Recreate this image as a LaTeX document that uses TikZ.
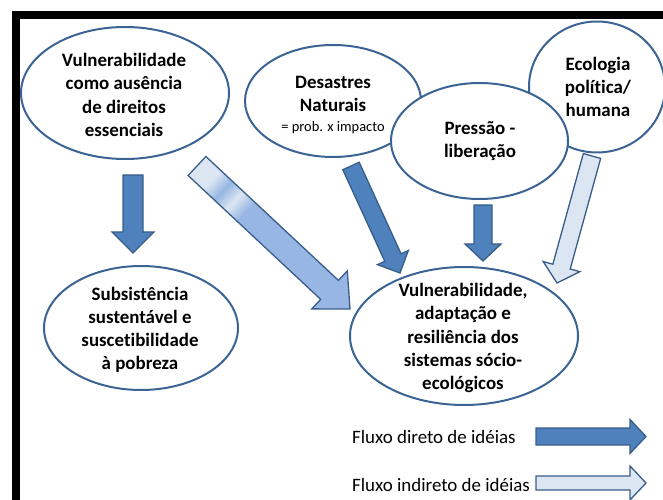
\documentclass[tikz,border=0pt]{standalone}
\usepackage{fontspec}
\setmainfont{Carlito}[Ligatures=NoCommon]
\usetikzlibrary{calc}
\usetikzlibrary{shapes.geometric}

\definecolor{bubbleline}{HTML}{3B6495}
\definecolor{flowline}{HTML}{385D8A}
\definecolor{flowdark}{HTML}{4F81BD}
\definecolor{flowlight}{HTML}{DCE6F2}
\definecolor{flowmid}{HTML}{97B6E3}

\pgfdeclarehorizontalshading{bandshade}{100bp}{color(0bp)=(flowlight); color(25bp)=(flowlight); color(30bp)=(flowmid); color(35bp)=(flowlight); color(40bp)=(flowmid); color(100bp)=(flowmid)}

\tikzset{
  bubble/.style={draw=bubbleline, line width=2bp, fill=white, shape=ellipse, inner sep=0pt},
  bubbletext/.style={align=center, inner sep=0pt, font=\bfseries\fontsize{19}{23.3}\selectfont},
  direct/.style={draw=flowline, line width=1.3bp, fill=flowdark},
  indirect/.style={draw=flowline, line width=1.3bp, fill=flowlight},
  banded/.style={draw=flowline, line width=1.3bp, shade, shading=bandshade, shading angle=-43},
  legendtext/.style={anchor=west, inner sep=0pt, font=\fontsize{19}{23}\selectfont}
}

% block arrow: [style]{from}{to}{shaft half}{head half}{head length}
\newcommand{\blockarrow}[6][]{%
  \coordinate (baM) at ($(#3)!#6!(#2)$);
  \draw[#1] ($(#2)!#4!90:(#3)$) -- ($(baM)!#4!-90:(#2)$) -- ($(baM)!#5!-90:(#2)$) -- (#3)
    -- ($(baM)!#5!90:(#2)$) -- ($(baM)!#4!90:(#2)$) -- ($(#2)!#4!-90:(#3)$) -- cycle;}

\begin{document}
\begin{tikzpicture}[x=1bp, y=-1bp]
\useasboundingbox (0,0) rectangle (663,500);

% frame
\fill[black] (12,11) rectangle (663,19);
\fill[black] (12,11) rectangle (20,500);

% bubbles
\node[bubble, minimum width=208bp, minimum height=132bp] (rights) at (125,93) {};
\node[bubbletext] (rightsT) at (124,95) {Vulnerabilidade\\como ausência\\de direitos\\essenciais};

\node[bubble, minimum width=176bp, minimum height=112bp] (disaster) at (333,101) {};
\node[bubble, minimum width=136bp, minimum height=131bp] (ecology) at (597,87) {};
\node[bubble, minimum width=177bp, minimum height=116bp] (pressure) at (479.5,141) {};
\node[bubbletext] (disasterT) at (333,105) {Desastres\\Naturais\\[-3pt]{\normalfont\fontsize{14.5}{16}\selectfont = prob. x impacto}};
\node[bubbletext] (ecologyT) at (598,87) {Ecologia\\política/\\humana};
\node[bubbletext] (pressureT) at (480,141) {Pressão -\\liberação};

\node[bubble, minimum width=194bp, minimum height=124bp] (subsist) at (141,328) {};
\node[bubbletext] (subsistT) at (140,330) {Subsistência\\sustentável e\\suscetibilidade\\à pobreza};

\node[bubble, minimum width=228bp, minimum height=138bp] (system) at (464,336) {};
\node[bubbletext] (systemT) at (463,338) {Vulnerabilidade,\\adaptação e\\resiliência dos\\sistemas sócio-\\ecológicos};

% arrow ends
\coordinate (rightsOut) at (133,175);
\coordinate (subsistIn) at (133,253);
\coordinate (rightsOutB) at (197,166);
\coordinate (systemInA) at (350,309);
\coordinate (disasterOut) at (351,166);
\coordinate (systemInB) at (400,273);
\coordinate (pressureOut) at (483,205);
\coordinate (systemInC) at (483,261);
\coordinate (ecologyOut) at (592,156);
\coordinate (systemInD) at (557,283);

\blockarrow[direct]{rightsOut}{subsistIn}{10bp}{21bp}{21bp}
\blockarrow[banded]{rightsOutB}{systemInA}{13bp}{26bp}{28bp}
\blockarrow[direct]{disasterOut}{systemInB}{9bp}{17bp}{17bp}
\blockarrow[direct]{pressureOut}{systemInC}{9bp}{18bp}{17bp}
\blockarrow[indirect]{ecologyOut}{systemInD}{9bp}{19bp}{17bp}

% legend
\node[legendtext] (directT) at (352,437) {Fluxo direto de idéias};
\node[legendtext] (indirectT) at (352,485) {Fluxo indireto de idéias};
\coordinate (directA) at (536,436.5);
\coordinate (directB) at (646,436.5);
\coordinate (indirectA) at (536,483);
\coordinate (indirectB) at (646,483);
\blockarrow[direct]{directA}{directB}{8.5bp}{17bp}{16bp}
\blockarrow[indirect]{indirectA}{indirectB}{7bp}{17bp}{16bp}

\end{tikzpicture}
\end{document}
